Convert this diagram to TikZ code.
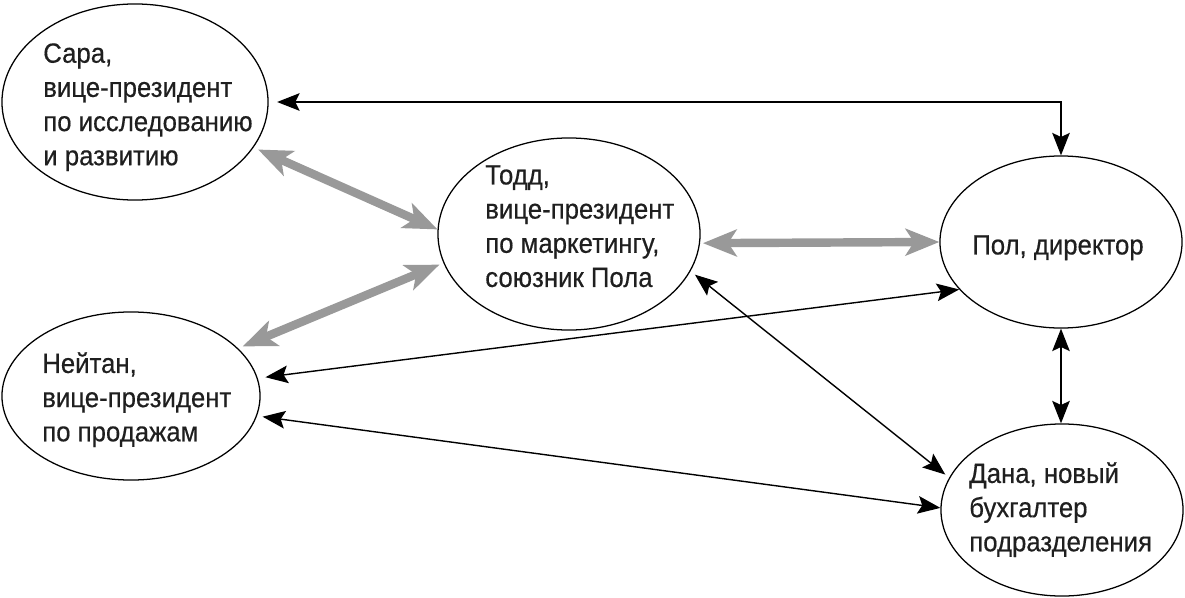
\documentclass[tikz,border=0pt]{standalone}
\usepackage{fontspec}
\setmainfont{Liberation Sans}[FakeStretch=0.925,FakeBold=0.45]
\usetikzlibrary{shapes.geometric,arrows.meta}
\definecolor{allygray}{gray}{0.6}
\definecolor{inkblack}{gray}{0.12}

\begin{document}
\begin{tikzpicture}[x=0.025cm,y=-0.025cm,
  person/.style={draw,ellipse,line width=0.9pt,inner sep=0pt},
  who/.style={anchor=north west,inner sep=0pt,align=left,text=inkblack,
    font=\fontsize{19.8}{24.3}\selectfont},
  tie/.style={{Stealth[length=16pt,width=12.5pt,inset=3pt]}-{Stealth[length=16pt,width=12.5pt,inset=3pt]},line width=1pt},
  ally/.style={{Stealth[length=24pt,width=19pt,inset=6pt]}-{Stealth[length=24pt,width=19pt,inset=6pt]},line width=6pt,draw=allygray}]
\useasboundingbox (0,0) rectangle (1185,598);

% ellipses
\node[person,minimum width=6.65cm,minimum height=4.9cm] (sara) at (135,102) {};
\node[person,minimum width=6.55cm,minimum height=4.8cm] (todd) at (569,234) {};
\node[person,minimum width=6.05cm,minimum height=4.3cm] (pol) at (1061,242) {};
\node[person,minimum width=6.45cm,minimum height=4.2cm] (nathan) at (131,396) {};
\node[person,minimum width=6.05cm,minimum height=4.3cm] (dana) at (1062,510) {};

% names
\node[who] (sara-txt) at (43,43) {Сара,\\вице-президент\\по исследованию\\и развитию};
\node[who] (todd-txt) at (485,165) {Тодд,\\вице-президент\\по маркетингу,\\союзник Пола};
\node[who] (pol-txt) at (972,235) {Пол, директор};
\node[who] (nathan-txt) at (42,352) {Нейтан,\\вице-президент\\по продажам};
\node[who] (dana-txt) at (969,462) {Дана, новый\\бухгалтер\\подразделения};

% allies
\draw[ally,shorten <=3.5pt] (sara.-21) -- (todd.178);
\draw[ally,shorten <=3.5pt,shorten >=3pt] (nathan.24) -- (todd.-167);
\draw[ally,shorten <=2pt] (todd.-4) -- (pol.west);

% other ties
\draw[tie,shorten <=6pt] (sara.east) -| (pol.north);
\draw[tie,shorten <=5.5pt] (nathan.8) -- (pol.-155);
\draw[tie,shorten <=4pt] (nathan.-9.5) -- (dana.179);
\draw[tie,shorten <=4pt,shorten >=3.5pt] (todd.-17) -- (dana.164);
\draw[tie] (pol.south) -- (pol.south |- dana.north);

\end{tikzpicture}
\end{document}
